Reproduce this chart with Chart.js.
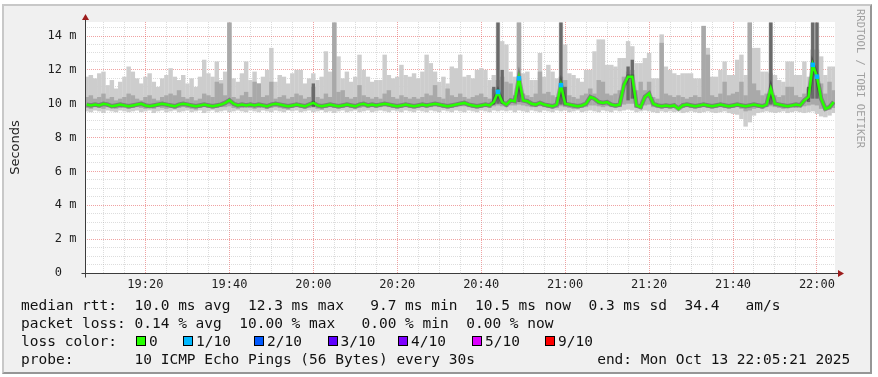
<!DOCTYPE html>
<html>
<head>
<meta charset="utf-8">
<title>SmokePing latency - last 3 hours</title>
<script src="https://cdn.jsdelivr.net/npm/chart.js@4.4.0/dist/chart.umd.min.js"></script>
<style>
  body { margin: 0; background: #fff; }
  #wrap { position: relative; width: 878px; height: 377px; overflow: hidden; }
  #frame { position: absolute; left: 2px; top: 4px; width: 870px; height: 370px; box-sizing: border-box;
    border: 2px solid; border-color: #c8c8c8 #969696 #969696 #c8c8c8; background: #f0f0f0; }
  #chart { position: absolute; left: 0; top: 0; }
  .leg { position: absolute; font: 14.5px 'DejaVu Sans Mono', monospace; line-height: 16px; white-space: pre; color: #111; }
  .box { position: absolute; width: 10px; height: 10px; box-sizing: border-box; border: 1px solid #000; }
  #mark { position: absolute; left: 855px; top: 9px; writing-mode: vertical-rl; font: 10.5px 'DejaVu Sans Mono', monospace;
    color: #a0a0a0; white-space: pre; }
</style>
</head>
<body>
<div id="wrap">
  <div id="frame"></div>
  <canvas id="chart" width="878" height="377"></canvas>
  <div id="mark">RRDTOOL / TOBI OETIKER</div>
  <div class="leg" style="left:21px;top:297px">median rtt:  10.0 ms avg  12.3 ms max   9.7 ms min  10.5 ms now  0.3 ms sd  34.4   am/s</div>
  <div class="leg" style="left:21px;top:315px">packet loss: 0.14 % avg  10.00 % max   0.00 % min  0.00 % now</div>
  <div class="leg" style="left:21px;top:333px">loss color:</div>
  <div class="leg" style="left:21px;top:351px">probe:       10 ICMP Echo Pings (56 Bytes) every 30s              end: Mon Oct 13 22:05:21 2025</div>
</div>
<script>
// one step per minute, first step 19:06 (minutes counted from 19:00)
const START_MIN = 6;
const X_MIN = 5.6, X_MAX = 184.3;
const Y_MAX = 14.83;

const X_TICK_MIN = [20, 40, 60, 80, 100, 120, 140, 160, 180];
const X_TICK_LABELS = ['19:20', '19:40', '20:00', '20:20', '20:40', '21:00', '21:20', '21:40', '22:00'];
const Y_TICK_VALUES = [0, 2, 4, 6, 8, 10, 12, 14];
const Y_TICK_LABELS = ['0  ', '2 m', '4 m', '6 m', '8 m', '10 m', '12 m', '14 m'];

// smoke: highest ping per step (ms)
const HI = [
  11.6, 11.7, 11.5, 11.8, 11.9, 11.1, 11.4, 10.9, 11.3, 11.6,
  12.2, 11.9, 11.5, 11.2, 11.6, 11.8, 11.3, 11.0, 11.5, 11.7,
  12.1, 11.6, 11.4, 11.7, 11.2, 11.5, 11.0, 11.6, 12.6, 11.8,
  11.6, 12.5, 11.4, 11.9, 14.8, 11.5, 11.3, 11.8, 12.5, 11.4,
  11.9, 11.2, 11.6, 12.0, 13.3, 11.3, 11.7, 11.6, 11.2, 11.8,
  12.0, 12.0, 11.2, 11.5, 11.8, 11.4, 11.6, 13.1, 11.9, 14.8,
  12.8, 11.5, 11.9, 11.3, 11.6, 12.9, 12.0, 11.6, 11.3, 11.4,
  11.4, 12.9, 11.7, 11.5, 11.6, 12.3, 11.7, 11.6, 11.8, 11.5,
  11.9, 12.9, 12.4, 11.9, 11.3, 11.6, 11.2, 12.2, 12.1, 12.9,
  11.6, 11.7, 11.5, 12.0, 12.1, 12.0, 11.4, 11.7, 14.8, 13.7,
  13.5, 11.9, 11.6, 14.8, 11.8, 11.9, 11.4, 11.4, 13.0, 11.6,
  12.3, 11.9, 11.5, 14.8, 13.5, 11.8, 11.7, 11.5, 11.3, 12.0,
  12.0, 13.1, 13.8, 13.8, 12.3, 12.3, 12.2, 12.7, 12.7, 13.7,
  13.4, 12.4, 12.4, 12.7, 13.0, 11.5, 11.5, 14.1, 12.2, 12.0,
  11.8, 11.7, 11.8, 11.8, 11.8, 11.5, 11.5, 14.6, 13.3, 11.6,
  11.6, 12.0, 12.5, 11.7, 11.7, 12.6, 12.9, 11.7, 14.8, 13.3,
  13.3, 11.9, 11.9, 14.8, 11.7, 11.4, 11.3, 12.5, 12.5, 11.7,
  11.7, 12.5, 11.6, 14.8, 14.8, 12.8, 11.7, 12.2, 12.2
];
// smoke: lowest ping per step
const LO = [
  9.55, 9.5, 9.6, 9.55, 9.45, 9.6, 9.55, 9.5, 9.6, 9.55,
  9.5, 9.55, 9.6, 9.5, 9.55, 9.6, 9.45, 9.55, 9.6, 9.5,
  9.55, 9.6, 9.5, 9.55, 9.6, 9.5, 9.55, 9.6, 9.45, 9.55,
  9.6, 9.5, 9.55, 9.6, 9.5, 9.55, 9.6, 9.55, 9.5, 9.6,
  9.55, 9.5, 9.6, 9.55, 9.5, 9.6, 9.55, 9.5, 9.6, 9.55,
  9.6, 9.5, 9.55, 9.6, 9.5, 9.55, 9.6, 9.5, 9.55, 9.45,
  9.55, 9.6, 9.5, 9.55, 9.6, 9.5, 9.55, 9.6, 9.5, 9.55,
  9.6, 9.55, 9.5, 9.6, 9.55, 9.5, 9.6, 9.55, 9.5, 9.6,
  9.55, 9.5, 9.6, 9.55, 9.5, 9.6, 9.55, 9.5, 9.6, 9.55,
  9.5, 9.6, 9.55, 9.5, 9.6, 9.55, 9.5, 9.6, 9.55, 9.6,
  9.55, 9.6, 9.5, 9.6, 9.55, 9.5, 9.6, 9.55, 9.5, 9.6,
  9.55, 9.5, 9.6, 9.55, 9.6, 9.5, 9.55, 9.6, 9.5, 9.55,
  9.6, 9.55, 9.5, 9.6, 9.55, 9.5, 9.6, 9.55, 9.6, 9.65,
  9.6, 9.5, 9.55, 9.6, 9.55, 9.5, 9.45, 9.55, 9.5, 9.55,
  9.5, 9.55, 9.45, 9.5, 9.55, 9.5, 9.45, 9.5, 9.55, 9.5,
  9.45, 9.5, 9.55, 9.45, 9.4, 9.35, 9.1, 8.65, 8.9, 9.3,
  9.45, 9.5, 9.55, 9.5, 9.45, 9.5, 9.55, 9.45, 9.5, 9.55,
  9.5, 9.45, 9.5, 9.55, 9.4, 9.25, 9.2, 9.3, 9.45
];
// inner smoke band (2nd..9th ping)
const HI2 = [
  10.4, 10.5, 10.3, 10.4, 10.6, 10.3, 10.4, 10.2, 10.3, 10.4,
  10.6, 10.5, 10.3, 10.2, 10.4, 10.5, 10.3, 10.2, 10.4, 10.5,
  10.6, 10.5, 10.8, 10.4, 10.3, 10.4, 10.2, 10.3, 10.6, 10.5,
  10.4, 11.3, 11.2, 10.5, 14.8, 10.4, 10.3, 10.5, 10.7, 10.4,
  11.3, 11.2, 10.4, 10.5, 11.3, 10.3, 10.4, 10.5, 10.3, 10.4,
  10.6, 10.5, 10.3, 10.4, 11.0, 10.4, 10.3, 10.6, 10.4, 14.8,
  10.7, 10.8, 10.4, 10.3, 10.4, 11.1, 10.5, 10.4, 10.3, 10.4,
  10.3, 10.6, 10.8, 10.4, 10.3, 10.5, 10.4, 10.3, 10.4, 10.3,
  10.4, 10.6, 10.5, 11.1, 10.4, 10.3, 10.9, 10.5, 10.4, 10.6,
  10.4, 10.3, 10.4, 10.5, 10.6, 10.4, 10.3, 10.9, 11.4, 11.6,
  11.3, 11.2, 10.5, 14.8, 10.6, 10.5, 10.4, 10.6, 11.9, 10.6,
  10.7, 10.5, 10.4, 11.6, 11.4, 10.5, 10.4, 10.3, 10.5, 10.6,
  10.9, 10.6, 11.4, 11.3, 10.6, 10.5, 10.6, 10.8, 11.6, 11.9,
  12.0, 10.8, 11.3, 10.8, 11.3, 10.4, 10.3, 13.6, 10.6, 10.5,
  10.4, 10.5, 10.4, 10.3, 10.4, 10.5, 10.4, 14.6, 12.9, 10.5,
  10.4, 10.6, 11.3, 10.5, 10.6, 10.7, 11.3, 10.5, 14.8, 11.2,
  10.8, 10.5, 10.6, 11.8, 10.5, 10.4, 10.5, 11.0, 11.0, 10.5,
  10.4, 10.6, 10.9, 13.2, 13.2, 11.2, 10.6, 11.3, 10.8
];
const LO2 = [
  9.75, 9.7, 9.8, 9.75, 9.7, 9.8, 9.75, 9.7, 9.75, 9.8,
  9.7, 9.75, 9.8, 9.75, 9.7, 9.75, 9.7, 9.8, 9.75, 9.7,
  9.75, 9.7, 9.75, 9.8, 9.75, 9.7, 9.65, 9.75, 9.8, 9.75,
  9.7, 9.75, 9.8, 9.8, 9.85, 9.75, 9.7, 9.75, 9.8, 9.75,
  9.7, 9.75, 9.8, 9.7, 9.75, 9.8, 9.75, 9.7, 9.65, 9.75,
  9.8, 9.75, 9.7, 9.75, 9.8, 9.7, 9.65, 9.75, 9.8, 9.75,
  9.7, 9.75, 9.8, 9.75, 9.7, 9.75, 9.8, 9.75, 9.8, 9.75,
  9.8, 9.85, 9.8, 9.75, 9.7, 9.75, 9.8, 9.75, 9.7, 9.75,
  9.8, 9.75, 9.8, 9.85, 9.8, 9.75, 9.7, 9.75, 9.8, 9.85,
  9.85, 9.8, 9.75, 9.7, 9.75, 9.8, 9.75, 9.85, 9.9, 9.85,
  9.8, 9.9, 9.9, 9.95, 9.9, 9.85, 9.8, 9.8, 9.85, 9.8,
  9.75, 9.7, 9.75, 9.85, 9.8, 9.75, 9.7, 9.7, 9.75, 9.8,
  9.9, 9.9, 9.85, 9.8, 9.85, 9.8, 9.75, 9.8, 9.95, 10.0,
  10.0, 9.75, 9.7, 9.9, 9.95, 9.8, 9.75, 9.7, 9.75, 9.7,
  9.75, 9.7, 9.75, 9.8, 9.75, 9.7, 9.75, 9.8, 9.75, 9.7,
  9.75, 9.8, 9.75, 9.7, 9.75, 9.8, 9.7, 9.55, 9.6, 9.7,
  9.75, 9.7, 9.8, 9.85, 9.8, 9.75, 9.7, 9.75, 9.8, 9.75,
  9.8, 9.85, 9.9, 9.95, 9.9, 9.7, 9.6, 9.65, 9.75
];
// dark streaks (steps where most pings were slow)
const DARK_INDEX = [54, 97, 98, 99, 103, 113, 114, 129, 130, 163, 172, 173, 174];
const DARK_LO = [9.8, 9.95, 10.0, 10.0, 10.1, 9.95, 9.95, 10.2, 10.3, 9.95, 10.1, 10.3, 10.3];
const DARK_HI = [11.2, 11.0, 14.8, 12.0, 11.6, 14.8, 11.0, 12.2, 12.6, 14.8, 11.0, 14.8, 14.8];
// median rtt
const MED = [
  9.95, 9.9, 9.95, 9.9, 10.0, 9.95, 9.85, 9.9, 9.95, 9.9,
  9.85, 9.9, 9.95, 10.0, 9.9, 9.85, 9.9, 9.95, 10.0, 9.95,
  9.9, 9.85, 9.95, 10.0, 9.95, 9.9, 9.85, 9.9, 9.95, 9.9,
  9.85, 9.9, 9.95, 10.05, 10.2, 10.0, 9.9, 9.95, 9.9, 9.95,
  9.9, 9.95, 9.9, 9.85, 9.95, 10.0, 9.95, 9.9, 9.85, 9.9,
  9.95, 9.9, 9.85, 9.95, 10.05, 9.9, 9.85, 9.9, 9.95, 9.9,
  9.85, 9.9, 9.95, 9.9, 9.85, 9.95, 10.0, 9.9, 9.95, 9.9,
  9.95, 10.0, 9.95, 9.9, 9.85, 9.9, 9.95, 9.9, 9.85, 9.9,
  9.95, 9.9, 9.95, 10.0, 9.95, 9.9, 9.85, 9.9, 9.95, 10.0,
  10.05, 9.95, 9.9, 9.85, 9.9, 9.95, 9.9, 10.1, 10.7, 10.1,
  9.95, 10.2, 10.15, 11.5, 10.2, 10.15, 10.0, 9.95, 10.05, 9.95,
  9.9, 9.85, 9.95, 11.1, 10.0, 9.95, 9.9, 9.85, 9.9, 10.0,
  10.4, 10.3, 10.1, 10.05, 10.1, 9.95, 9.9, 9.95, 11.1, 11.6,
  11.6, 9.9, 9.8, 10.4, 10.6, 10.0, 9.9, 9.85, 9.9, 9.85,
  9.9, 9.7, 9.9, 9.95, 9.9, 9.85, 9.9, 9.95, 9.9, 9.85,
  9.9, 9.95, 9.9, 9.85, 9.9, 9.95, 9.9, 9.85, 9.9, 9.95,
  9.9, 9.85, 9.95, 10.9, 10.0, 9.95, 9.9, 9.85, 9.9, 9.95,
  9.9, 10.2, 10.4, 12.3, 11.6, 10.3, 9.7, 9.8, 10.1
];
// steps with lost pings (out of 10)
const LOSS_INDEX = [98, 103, 113, 173, 174];
const LOSS_COUNT = [1, 1, 1, 1, 1];

const LOSS_STEPS = [0, 1, 2, 3, 4, 5, 9];
const LOSS_LABELS = ['0', '1/10', '2/10', '3/10', '4/10', '5/10', '9/10'];
const LOSS_COLORS = ['#26ff00', '#00b8ff', '#0059ff', '#5e00ff', '#7e00ff', '#dd00ff', '#ff0000'];

// legend boxes for the loss colours
const BOX_X = [136, 183, 254, 327.5, 398, 472, 545];
const wrap = document.getElementById('wrap');
LOSS_LABELS.forEach((lab, k) => {
  const b = document.createElement('div');
  b.className = 'box';
  b.style.left = BOX_X[k] + 'px';
  b.style.top = '336px';
  b.style.background = LOSS_COLORS[k];
  wrap.appendChild(b);
  const t = document.createElement('div');
  t.className = 'leg';
  t.style.left = (BOX_X[k] + 13) + 'px';
  t.style.top = '333px';
  t.textContent = lab;
  wrap.appendChild(t);
});

function lossColor(n) {
  let k = 0;
  LOSS_STEPS.forEach((s, j) => { if (n >= s) k = j; });
  return LOSS_COLORS[k];
}
const lossAt = {};
LOSS_INDEX.forEach((idx, j) => { lossAt[idx] = LOSS_COUNT[j]; });

const outer = HI.map((h, i) => ({ x: START_MIN + i, y: [LO[i], h] }));
const inner = HI2.map((h, i) => ({ x: START_MIN + i, y: [LO2[i], h] }));
const dark = DARK_INDEX.map((idx, j) => ({ x: START_MIN + idx, y: [DARK_LO[j], DARK_HI[j]] }));
const median = MED.map((m, i) => ({ x: START_MIN + i, y: m }));

const MINOR = 'rgba(150,150,150,0.32)';
const MAJOR = 'rgba(225,70,70,0.5)';

const frame = {
  id: 'frame',
  beforeDraw(chart) {
    const { ctx, chartArea: a } = chart;
    ctx.save();
    ctx.fillStyle = '#ffffff';
    ctx.fillRect(a.left, a.top, a.right - a.left, a.bottom - a.top);
    ctx.restore();
  },
  afterDatasetsDraw(chart) {
    const { ctx, chartArea: a } = chart;
    const x0 = Math.round(a.left) + 0.5, y0 = Math.round(a.bottom) + 0.5;
    ctx.save();
    ctx.strokeStyle = '#3c3c3c';
    ctx.lineWidth = 1;
    ctx.beginPath();
    ctx.moveTo(x0, y0 + 4); ctx.lineTo(x0, a.top - 2);
    ctx.moveTo(x0 - 4, y0); ctx.lineTo(a.right + 4, y0);
    ctx.stroke();
    ctx.fillStyle = '#9c1c1c';
    ctx.beginPath();
    ctx.moveTo(x0, a.top - 8); ctx.lineTo(x0 - 3.5, a.top - 2); ctx.lineTo(x0 + 3.5, a.top - 2);
    ctx.closePath(); ctx.fill();
    ctx.beginPath();
    ctx.moveTo(a.right + 9, y0); ctx.lineTo(a.right + 3, y0 - 3.5); ctx.lineTo(a.right + 3, y0 + 3.5);
    ctx.closePath(); ctx.fill();
    ctx.restore();
  }
};

const tickFont = { family: "'DejaVu Sans Mono', monospace", size: 12 };

new Chart(document.getElementById('chart'), {
  type: 'bar',
  data: {
    datasets: [
      { type: 'bar', data: outer, backgroundColor: '#cdcdcd', grouped: false, order: 5,
        barPercentage: 1.06, categoryPercentage: 1, borderWidth: 0 },
      { type: 'bar', data: inner, backgroundColor: '#a9a9a9', grouped: false, order: 4,
        barPercentage: 1.06, categoryPercentage: 1, borderWidth: 0 },
      { type: 'bar', data: dark, backgroundColor: '#6a6a6a', grouped: false, order: 3,
        barPercentage: 0.8, categoryPercentage: 1, borderWidth: 0 },
      { type: 'line', data: median, borderColor: 'rgba(20,20,20,0.3)', borderWidth: 4.5,
        pointRadius: 0, order: 2 },
      { type: 'line', data: median, borderColor: LOSS_COLORS[0], borderWidth: 2.5, order: 1,
        pointStyle: 'rect',
        pointRadius: c => (lossAt[c.dataIndex] ? 3.2 : 0),
        pointBorderWidth: 0,
        pointBackgroundColor: c => lossColor(lossAt[c.dataIndex] || 0) }
    ]
  },
  options: {
    responsive: false,
    animation: false,
    events: [],
    layout: { padding: { top: 22, right: 43, left: 0, bottom: 0 } },
    plugins: { legend: { display: false }, tooltip: { enabled: false } },
    scales: {
      x: {
        type: 'linear', min: X_MIN, max: X_MAX, offset: false,
        afterFit: s => { s.height = 104; },
        afterBuildTicks: s => {
          const t = [];
          for (let m = 10; m <= 180; m += 5) t.push({ value: m });
          s.ticks = t;
        },
        grid: { offset: false, drawTicks: false, lineWidth: 1,
          color: c => (c.tick && c.tick.value % 20 === 0 ? MAJOR : MINOR) },
        border: { display: false, dash: [1, 1] },
        ticks: { autoSkip: false, maxRotation: 0, padding: 5, color: '#1e1e1e', font: tickFont,
          callback: v => { const k = X_TICK_MIN.indexOf(v); return k < 0 ? '' : X_TICK_LABELS[k]; } }
      },
      y: {
        min: 0, max: Y_MAX,
        afterFit: s => { s.width = 85; },
        afterBuildTicks: s => {
          const t = [];
          for (let v = 0; v <= 14.5; v += 0.5) t.push({ value: v });
          s.ticks = t;
        },
        grid: { drawTicks: false, lineWidth: 1,
          color: c => (c.tick && c.tick.value % 2 === 0 ? MAJOR : MINOR) },
        border: { display: false, dash: [1, 1] },
        title: { display: true, text: 'Seconds', color: '#1e1e1e',
          font: { family: "'DejaVu Sans', sans-serif", size: 13 }, padding: { top: 8, bottom: 0 } },
        ticks: { autoSkip: false, padding: 8.5, color: '#1e1e1e', font: tickFont,
          callback: v => { const k = Y_TICK_VALUES.indexOf(v); return k < 0 ? '' : Y_TICK_LABELS[k]; } }
      }
    }
  },
  plugins: [frame]
});
</script>
</body>
</html>
